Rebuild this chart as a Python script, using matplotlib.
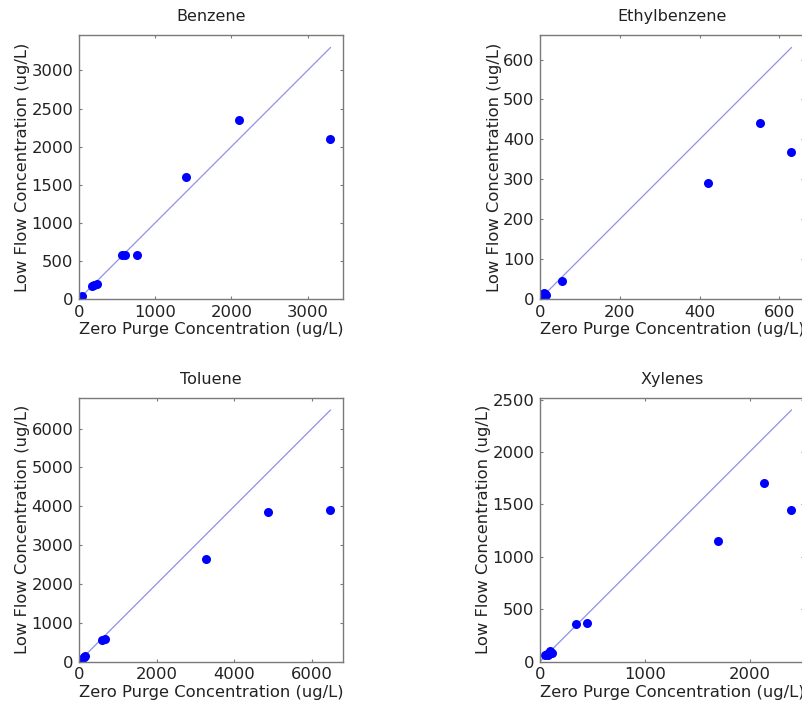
import matplotlib
matplotlib.use("Agg")
import matplotlib.pyplot as plt
from matplotlib.ticker import MultipleLocator

plt.rcParams['font.family'] = ['DejaVu Sans']

titles = ["Benzene", "Ethylbenzene", "Toluene", "Xylenes"]

benzene_x = [25, 40, 170, 200, 230, 570, 600, 760, 1400, 2100, 3300]
benzene_y = [30, 35, 175, 185, 195, 575, 580, 580, 1600, 2350, 2100]

ethyl_x = [5, 8, 10, 12, 15, 55, 420, 550, 630]
ethyl_y = [10, 12, 14, 12, 11, 45, 290, 440, 368]

toluene_x = [20, 40, 80, 120, 160, 600, 680, 3270, 4870, 6480]
toluene_y = [20, 40, 70, 110, 140, 550, 580, 2650, 3860, 3910]

xylenes_x = [50, 65, 80, 95, 100, 110, 340, 450, 1700, 2140, 2400]
xylenes_y = [60, 70, 65, 100, 85, 80, 360, 365, 1150, 1700, 1445]

xs = [benzene_x, ethyl_x, toluene_x, xylenes_x]
ys = [benzene_y, ethyl_y, toluene_y, xylenes_y]
x_steps = [1000, 200, 2000, 1000]
y_steps = [500, 100, 1000, 500]

fig = plt.figure(figsize=(8.03, 7.15), dpi=100)
W, H = 803.0, 715.0
boxes = [(79, 35), (540, 35), (79, 397.5), (540, 397.5)]
size = 264.0

for i in range(4):
    lx, ty = boxes[i]
    ax = fig.add_axes([lx / W, (H - ty - size) / H, size / W, size / H])
    x = xs[i]
    y = ys[i]
    m = max(x)
    lim = 1.05 * m
    ax.plot([0, m], [0, m], color='#9090e8', lw=0.9, zorder=1)
    ax.plot(x, y, 'o', color='#0000ff', markersize=6.5, markeredgewidth=0, zorder=2)
    ax.set_xlim(0, lim)
    ax.set_ylim(0, lim)
    ax.xaxis.set_major_locator(MultipleLocator(x_steps[i]))
    ax.yaxis.set_major_locator(MultipleLocator(y_steps[i]))
    for s in ax.spines.values():
        s.set_color('#7a7a7a')
        s.set_linewidth(1.0)
    ax.tick_params(direction='in', length=2.5, width=0.8, color='#7a7a7a',
                   top=True, right=True, labelsize=11.8, labelcolor='#222222', pad=4)
    ax.set_title(titles[i], fontsize=11.5, color='#222222', pad=10)
    ax.set_xlabel("Zero Purge Concentration (ug/L)", fontsize=11.8, color='#222222', labelpad=2)
    ax.set_ylabel("Low Flow Concentration (ug/L)", fontsize=11.8, color='#222222', labelpad=1)

fig.savefig("out.png", dpi=100)
